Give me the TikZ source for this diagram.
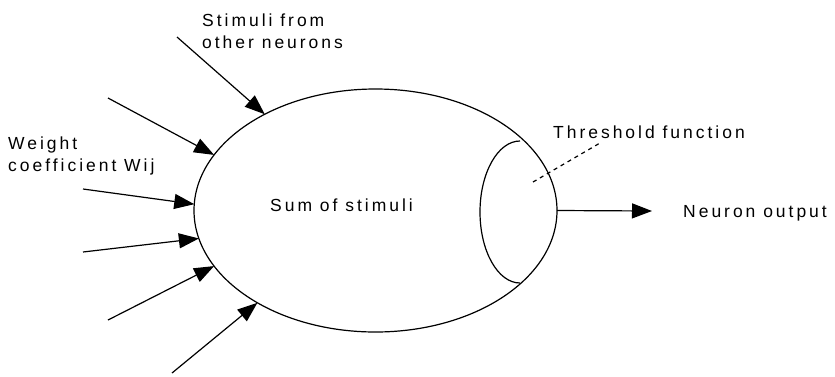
\documentclass[tikz,border=0pt]{standalone}
\usepackage{fontspec}
\setmainfont{Liberation Sans}[LetterSpace=17]
\usetikzlibrary{shapes.geometric, arrows.meta}

\begin{document}
\begin{tikzpicture}[
    x=1pt, y=-1pt,
    font=\fontsize{17.5}{22}\selectfont,
    cell/.style = {ellipse, draw, line width=1.2pt, minimum width=363pt, minimum height=243pt, inner sep=0pt, outer sep=0pt},
    lbl/.style = {inner sep=0pt, align=left},
    line/.style = {draw, line width=1.2pt, -{Triangle[length=20pt, width=15pt]}},
    leader/.style = {draw, line width=1.2pt, dash pattern=on 4pt off 4pt}
]
    \useasboundingbox (0,0) rectangle (835,376);

    % Nodes - neuron body
    \node (soma) [cell] at (375.5,210.5) {};
    \node (sumtxt) [lbl, anchor=north west] at (270,198.5) {Sum of stimuli};

    % Threshold part
    \coordinate (thtop) at (520,141);
    \draw [line width=1.2pt] (thtop) arc [start angle=90, end angle=270, x radius=40pt, y radius=71pt];

    % Labels
    \node (stimtxt) [lbl, anchor=north west] at (202,13.5) {Stimuli from\\other neurons};
    \node (wtxt) [lbl, anchor=north west] at (8,136.5) {Weight\\coefficient Wij};
    \node (thrtxt) [lbl, anchor=north west] at (553,125.5) {Threshold function};
    \node (outtxt) [lbl, anchor=north west] at (683,205.5) {Neuron output};

    % Input ends
    \coordinate (in1) at (177,37);
    \coordinate (in2) at (108,98);
    \coordinate (in3) at (83,189);
    \coordinate (in4) at (83,252);
    \coordinate (in5) at (108,320);
    \coordinate (in6) at (172,373);
    \coordinate (outtip) at (652,211);
    \coordinate (thpt) at (533,182);
    \coordinate (thend) at (600,143);

    % Edges - stimuli
    \path [line] (in1) -- (soma.139);
    \path [line] (in2) -- (soma.161);
    \path [line] (in3) -- (soma.178);
    \path [line] (in4) -- (soma.189);
    \path [line] (in5) -- (soma.199.5);
    \path [line] (in6) -- (soma.218);

    % Output and threshold leader
    \path [line] (soma.east) -- (outtip);
    \path [leader] (thpt) -- (thend);

\end{tikzpicture}
\end{document}
